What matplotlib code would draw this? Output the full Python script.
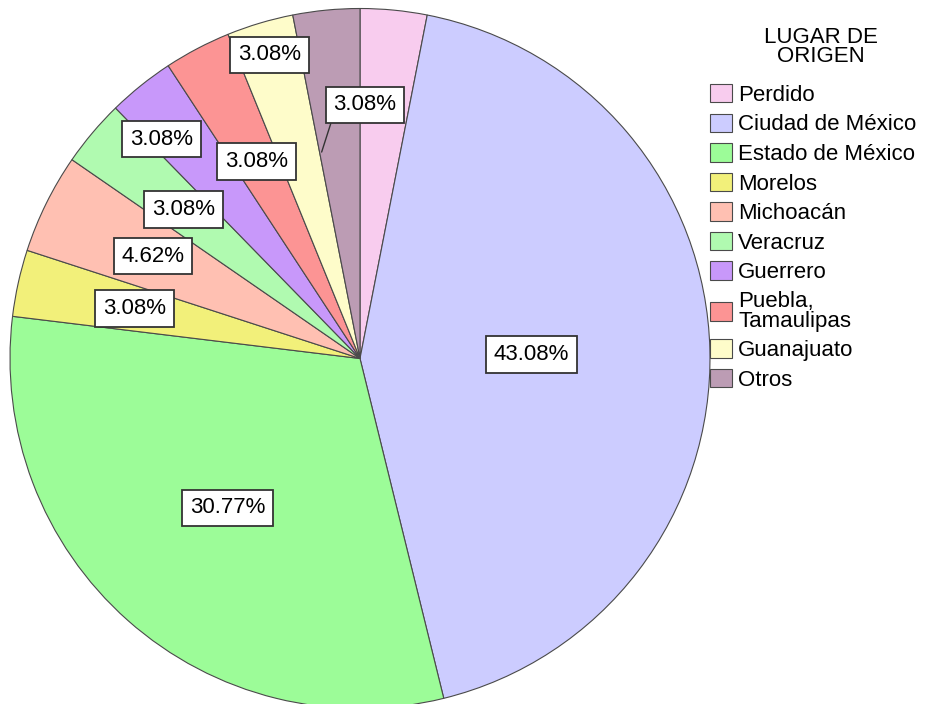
import numpy as np
import matplotlib.pyplot as plt

plt.rcParams['font.family'] = ['Liberation Sans', 'DejaVu Sans']

lugares = ['Perdido', 'Ciudad de México', 'Estado de México', 'Morelos', 'Michoacán',
           'Veracruz', 'Guerrero', 'Puebla,\nTamaulipas', 'Guanajuato', 'Otros']
conteos = np.array([2, 28, 20, 2, 3, 2, 2, 2, 2, 2])
colores = ['#F8CCEE', '#CCCCFF', '#9CFC98', '#F2F07A', '#FFC0B2',
           '#B0FAB0', '#C898FA', '#FC9494', '#FEFCCA', '#BC9CB4']

# label placement: distance as fraction of radius (None = no label),
# and position across the wedge (0..1, 0.5 = middle)
dist_etiqueta = [None, 0.49, 0.57, 0.66, 0.66, 0.66, 0.845, 0.635, 0.905, 0.725]
frac_etiqueta = [0.5, 0.5, 0.5, 0.5, 0.5, 0.5, 0.8, 0.5, 0.5, -0.1]

fig = plt.figure(figsize=(9.25, 7.04), dpi=100)
ax = fig.add_axes([10/925, -4.5/704, 700/925, 700/704])
wedges, _ = ax.pie(conteos, colors=colores, startangle=90, counterclock=False,
                   wedgeprops=dict(edgecolor='#4a4a4a', linewidth=0.8))
ax.set_xlim(-1, 1)
ax.set_ylim(-1, 1)
ax.set_aspect('equal')
ax.axis('off')

total = conteos.sum()
caja = dict(boxstyle='square,pad=0.35', facecolor='white', edgecolor='#333333', linewidth=1.3)
for i, w in enumerate(wedges):
    d = dist_etiqueta[i]
    if d is None:
        continue
    txt = f"{conteos[i] / total * 100:.2f}%"
    t_lo = min(w.theta1, w.theta2)
    t_hi = max(w.theta1, w.theta2)
    ang = np.deg2rad(t_lo + frac_etiqueta[i] * (t_hi - t_lo))
    pos = (d * np.cos(ang), d * np.sin(ang))
    if lugares[i] == 'Otros':
        punta = np.deg2rad(t_lo + 0.95 * (t_hi - t_lo))
        ax.annotate(txt, xy=(0.6 * np.cos(punta), 0.6 * np.sin(punta)), xytext=pos,
                    ha='center', va='center', fontsize=16, bbox=caja,
                    arrowprops=dict(arrowstyle='-', color='#333333', lw=1,
                                    relpos=(0, 0), shrinkA=0, shrinkB=0))
    else:
        ax.text(pos[0], pos[1], txt, ha='center', va='center', fontsize=16, bbox=caja)

fig.text(821/925, 1 - 47/704, 'LUGAR DE\nORIGEN', ha='center', va='center',
         multialignment='center', fontsize=16, linespacing=0.93)
leg = fig.legend(wedges, lugares, loc='upper left', bbox_to_anchor=(710/925, 1 - 84/704),
                 frameon=False, fontsize=16, handlelength=1.0, handleheight=0.9,
                 handletextpad=0.27, labelspacing=0.345, borderpad=0, borderaxespad=0)
for t in leg.get_texts():
    t.set_linespacing(0.92)

fig.savefig('out.png', dpi=100)
